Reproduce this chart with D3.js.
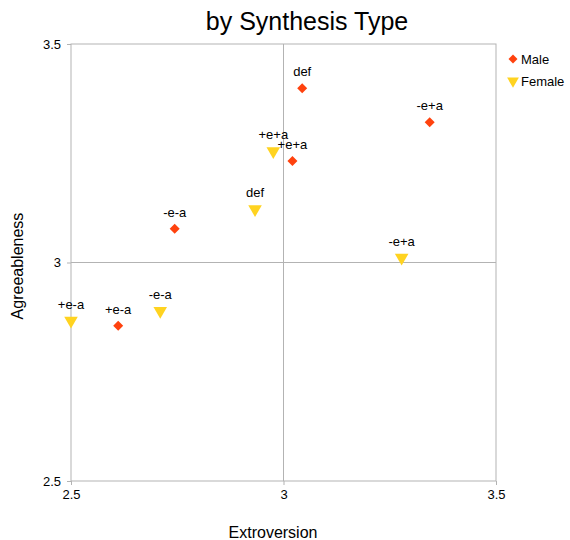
<!DOCTYPE html>
<html><head><meta charset="utf-8">
<script src="https://cdn.jsdelivr.net/npm/d3@7"></script>
<style>body{margin:0;background:#fff;} text{font-family:"Liberation Sans",Arial,sans-serif;}</style>
</head><body>
<svg id="c" width="570" height="540"></svg>
<script>
const maleLabels = ["def", "-e+a", "+e+a", "-e-a", "+e-a"];
const maleX = [3.044, 3.344, 3.021, 2.744, 2.611];
const maleY = [3.399, 3.321, 3.232, 3.077, 2.855];
const femaleLabels = ["+e+a", "def", "-e+a", "+e-a", "-e-a"];
const femaleX = [2.976, 2.933, 3.278, 2.500, 2.710];
const femaleY = [3.255, 3.122, 3.011, 2.867, 2.889];
const xTicks = [2.5, 3, 3.5];
const yTicks = [2.5, 3, 3.5];
const seriesNames = ["Male", "Female"];

const svg = d3.select("#c");
const L = 71, R = 496, T = 44, B = 481;
const x = d3.scaleLinear().domain([2.5, 3.5]).range([L, R]);
const y = d3.scaleLinear().domain([2.5, 3.5]).range([B, T]);
const grid = "#b3b3b3";

svg.append("rect").attr("x", L).attr("y", T).attr("width", R - L).attr("height", B - T)
  .attr("fill", "none").attr("stroke", grid).attr("stroke-width", 1);
svg.append("line").attr("x1", x(3)).attr("x2", x(3)).attr("y1", T).attr("y2", B).attr("stroke", grid);
svg.append("line").attr("x1", L).attr("x2", R).attr("y1", y(3)).attr("y2", y(3)).attr("stroke", grid);

const xAxis = svg.append("g").attr("transform", `translate(0,${B})`)
  .call(d3.axisBottom(x).tickValues(xTicks).tickFormat(d3.format("")).tickSize(4).tickPadding(5));
const yAxis = svg.append("g").attr("transform", `translate(${L},0)`)
  .call(d3.axisLeft(y).tickValues(yTicks).tickFormat(d3.format("")).tickSize(4).tickPadding(6));
[xAxis, yAxis].forEach(a => {
  a.select(".domain").remove();
  a.selectAll("line").attr("stroke", grid);
  a.selectAll("text").attr("font-size", 13).attr("fill", "#000")
    .style("font-family", '"Liberation Sans",Arial,sans-serif');
});

const maleColor = "#ff420e", femaleColor = "#ffd320";
const tri = d3.symbol().type(d3.symbolTriangle).size(80);

const male = maleX.map((v, i) => ({x: v, y: maleY[i], l: maleLabels[i]}));
const female = femaleX.map((v, i) => ({x: v, y: femaleY[i], l: femaleLabels[i]}));

svg.selectAll(".m").data(male).enter().append("path")
  .attr("d", d3.symbol().type(d3.symbolSquare).size(50))
  .attr("transform", d => `translate(${x(d.x)},${y(d.y)}) rotate(45)`)
  .attr("fill", maleColor);
svg.selectAll(".f").data(female).enter().append("path")
  .attr("d", tri)
  .attr("transform", d => `translate(${x(d.x)},${y(d.y)}) rotate(180)`)
  .attr("fill", femaleColor);

const lbl = male.concat(female);
svg.selectAll(".lb").data(lbl).enter().append("text")
  .attr("x", d => x(d.x)).attr("y", d => y(d.y) - 12)
  .attr("text-anchor", "middle").attr("font-size", 13).attr("fill", "#000")
  .text(d => d.l);

svg.append("text").attr("x", 307).attr("y", 30).attr("text-anchor", "middle")
  .attr("font-size", 25).attr("fill", "#000").text("by Synthesis Type");
svg.append("text").attr("x", 273).attr("y", 538).attr("text-anchor", "middle")
  .attr("font-size", 16).attr("fill", "#000").text("Extroversion");
svg.append("text").attr("transform", "translate(23,266) rotate(-90)").attr("text-anchor", "middle")
  .attr("font-size", 16).attr("fill", "#000").text("Agreeableness");

const lg = svg.append("g");
lg.append("path").attr("d", d3.symbol().type(d3.symbolSquare).size(40))
  .attr("transform", "translate(513,59) rotate(45)").attr("fill", maleColor);
lg.append("path").attr("d", d3.symbol().type(d3.symbolTriangle).size(60))
  .attr("transform", "translate(513,81) rotate(180)").attr("fill", femaleColor);
lg.selectAll(".lt").data(seriesNames).enter().append("text")
  .attr("x", 521).attr("y", (d, i) => 64 + i * 22).attr("font-size", 13).attr("fill", "#000").text(d => d);
</script>
</body></html>
